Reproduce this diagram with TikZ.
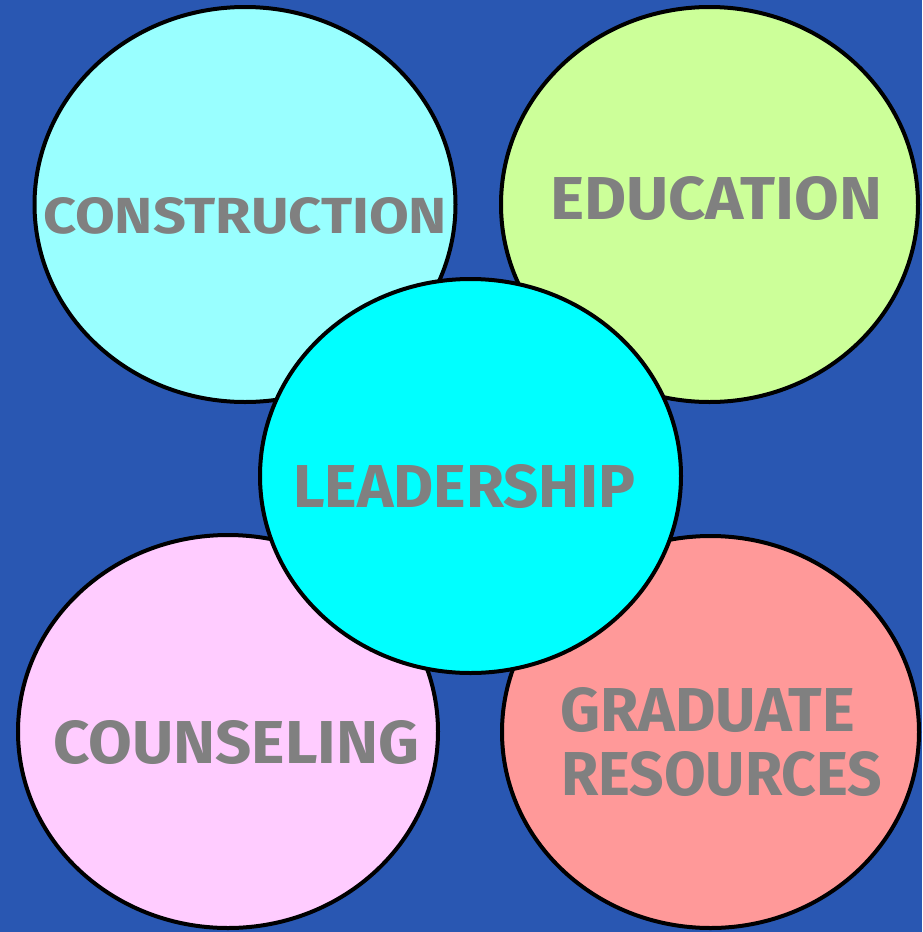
\documentclass[tikz,border=0pt]{standalone}
\usepackage{fontspec}
\setmainfont{Fira Sans}
\usetikzlibrary{shapes.geometric}
\definecolor{bgblue}{RGB}{41,87,178}
\definecolor{cconstr}{RGB}{153,255,255}
\definecolor{ceduc}{RGB}{204,255,153}
\definecolor{clead}{RGB}{0,255,255}
\definecolor{ccouns}{RGB}{255,204,255}
\definecolor{cgrad}{RGB}{255,153,153}
\definecolor{txtgray}{RGB}{128,128,128}
\tikzset{
  bubble/.style={ellipse, draw=black, line width=4pt, inner sep=0pt, outer sep=0pt},
  lbl/.style={inner sep=0pt, outer sep=0pt, text=txtgray, font=\bfseries},
}
\newcommand{\fitlbl}[3]{\resizebox{#1pt}{#2pt}{#3}}
\begin{document}
\begin{tikzpicture}[x=1pt,y=-1pt]
\fill[bgblue] (0,0) rectangle (922,932);
\useasboundingbox (0,0) rectangle (922,932);
\node[bubble, fill=cconstr, minimum width=421pt, minimum height=395pt] (constr) at (245,204.5) {};
\node[bubble, fill=ceduc, minimum width=417pt, minimum height=395pt] (educ) at (709.5,204.5) {};
\node[bubble, fill=ccouns, minimum width=420pt, minimum height=393pt] (couns) at (228,731.5) {};
\node[bubble, fill=cgrad, minimum width=417pt, minimum height=392pt] (grad) at (710.5,732) {};
\node[bubble, fill=clead, minimum width=421pt, minimum height=394pt] (lead) at (470.5,476) {};
\node[lbl, anchor=north west] (tconstr) at (43,197) {\fitlbl{404}{36}{CONSTRUCTION}};
\node[lbl, anchor=north west] (teduc) at (550,176) {\fitlbl{332}{43}{EDUCATION}};
\node[lbl, anchor=north west] (tcouns) at (53,720) {\fitlbl{366}{43}{COUNSELING}};
\node[lbl, anchor=north west] (tgrad1) at (560,687) {\fitlbl{295}{44}{GRADUATE}};
\node[lbl, anchor=north west] (tgrad2) at (561,751) {\fitlbl{321}{44}{RESOURCES}};
\node[lbl, anchor=north west] (tlead) at (293,464) {\fitlbl{342}{43}{LEADERSHIP}};
\end{tikzpicture}
\end{document}
